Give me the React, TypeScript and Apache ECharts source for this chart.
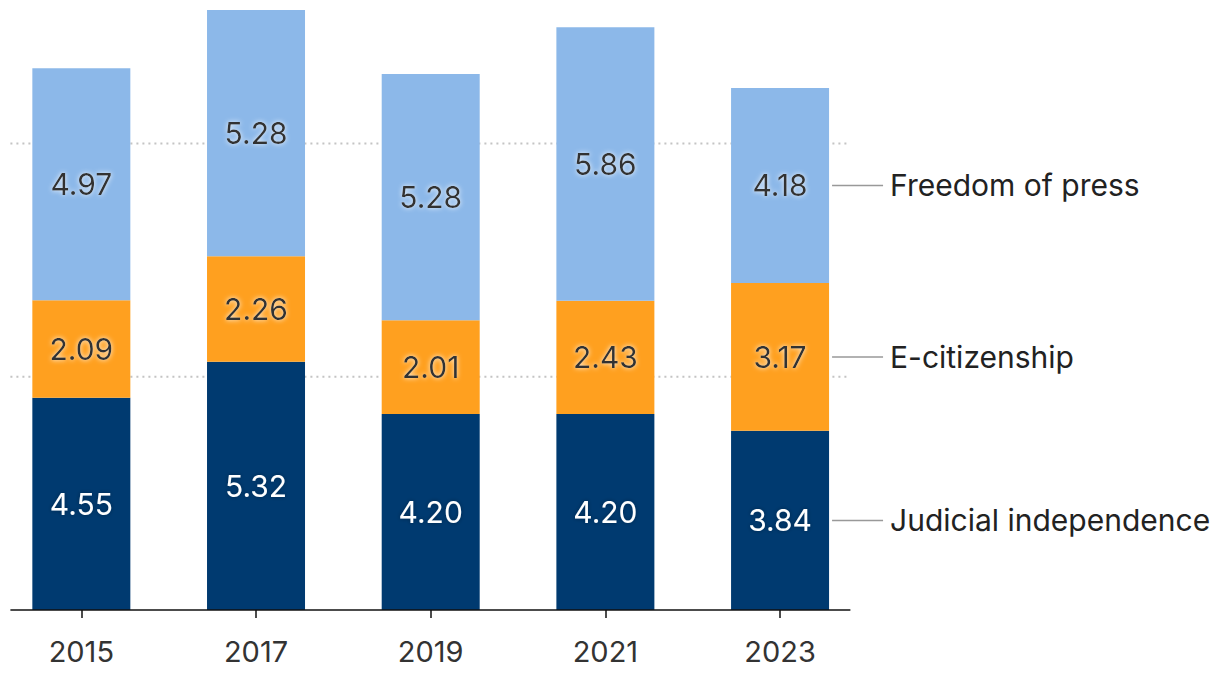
import React, { useEffect, useRef } from "react";
import * as echarts from "echarts";

const years = ["2015", "2017", "2019", "2021", "2023"];
const judicial = [4.55, 5.32, 4.2, 4.2, 3.84];
const eCitizenship = [2.09, 2.26, 2.01, 2.43, 3.17];
const freedomPress = [4.97, 5.28, 5.28, 5.86, 4.18];
const seriesNames = ["Judicial independence", "E-citizenship", "Freedom of press"];
const gridValues = [5, 10];

const FONT = "Inter, 'Noto Sans', sans-serif";
const OFF = 6.4; // chart canvas starts slightly left of the page edge

export default function App() {
  const ref = useRef<HTMLDivElement>(null);
  useEffect(() => {
    const chart = echarts.init(ref.current!, null, { renderer: "svg" });
    const darkLabel = {
      show: true,
      position: "inside",
      fontFamily: FONT,
      fontSize: 30,
      color: "#333333",
      textShadowColor: "rgba(255,255,255,0.95)",
      textShadowBlur: 5,
      formatter: (p: any) => Number(p.value).toFixed(2),
    };
    const whiteLabel = {
      ...darkLabel,
      color: "#ffffff",
      textShadowColor: "rgba(0,0,0,0.35)",
      textShadowBlur: 4,
    };
    chart.setOption({
      animation: false,
      grid: { left: 0, right: 352.6, top: 3.5, bottom: 78 },
      xAxis: {
        type: "category",
        data: years,
        axisLine: { show: false },
        axisTick: { show: true, alignWithLabel: true, length: 8, lineStyle: { color: "#111", width: 1.5 } },
        axisLabel: { fontFamily: FONT, fontSize: 29, color: "#333", margin: 27 },
      },
      yAxis: {
        type: "value",
        min: 0,
        max: 13,
        show: false,
        splitLine: { show: false },
      },
      series: [
        { name: seriesNames[0], type: "bar", stack: "a", data: judicial, barWidth: 98, itemStyle: { color: "#003A70" }, label: whiteLabel },
        { name: seriesNames[1], type: "bar", stack: "a", data: eCitizenship, barWidth: 98, itemStyle: { color: "#FFA01F" }, label: darkLabel },
        { name: seriesNames[2], type: "bar", stack: "a", data: freedomPress, barWidth: 98, itemStyle: { color: "#8CB8E9" }, label: darkLabel },
      ],
    });

    const toPx = (cat: string, v: number) => chart.convertToPixel({ gridIndex: 0 }, [cat, v]) as number[];
    const elements: any[] = [];
    const baseY = toPx(years[0], 0)[1];
    gridValues.forEach((g) => {
      const y = toPx(years[0], g)[1];
      elements.push({
        type: "line",
        z: -10,
        shape: { x1: 10 + OFF, y1: y, x2: 848 + OFF, y2: y },
        style: { stroke: "#c4c4c4", lineWidth: 2, lineDash: [2, 4] },
      });
    });
    elements.push({
      type: "line",
      z: 100,
      shape: { x1: 10 + OFF, y1: baseY, x2: 850 + OFF, y2: baseY },
      style: { stroke: "#111", lineWidth: 1.5 },
    });
    const last = years.length - 1;
    const stacks = [judicial, eCitizenship, freedomPress];
    let cum = 0;
    stacks.forEach((arr, i) => {
      const mid = cum + arr[last] / 2;
      cum += arr[last];
      const [bx, y] = toPx(years[last], mid);
      elements.push({
        type: "line",
        z: 100,
        shape: { x1: bx + 52, y1: y, x2: bx + 103, y2: y },
        style: { stroke: "#999", lineWidth: 1.5 },
      });
      elements.push({
        type: "text",
        z: 100,
        x: bx + 110,
        y,
        style: { text: seriesNames[i], fontFamily: FONT, fontSize: 30, fill: "#222", verticalAlign: "middle", align: "left" },
      });
    });
    chart.setOption({ graphic: { elements } });
    return () => chart.dispose();
  }, []);
  return (
    <div
      ref={ref}
      style={{ position: "fixed", left: -OFF, top: 0, width: 1220 + OFF, height: 688, background: "#fff" }}
    />
  );
}
